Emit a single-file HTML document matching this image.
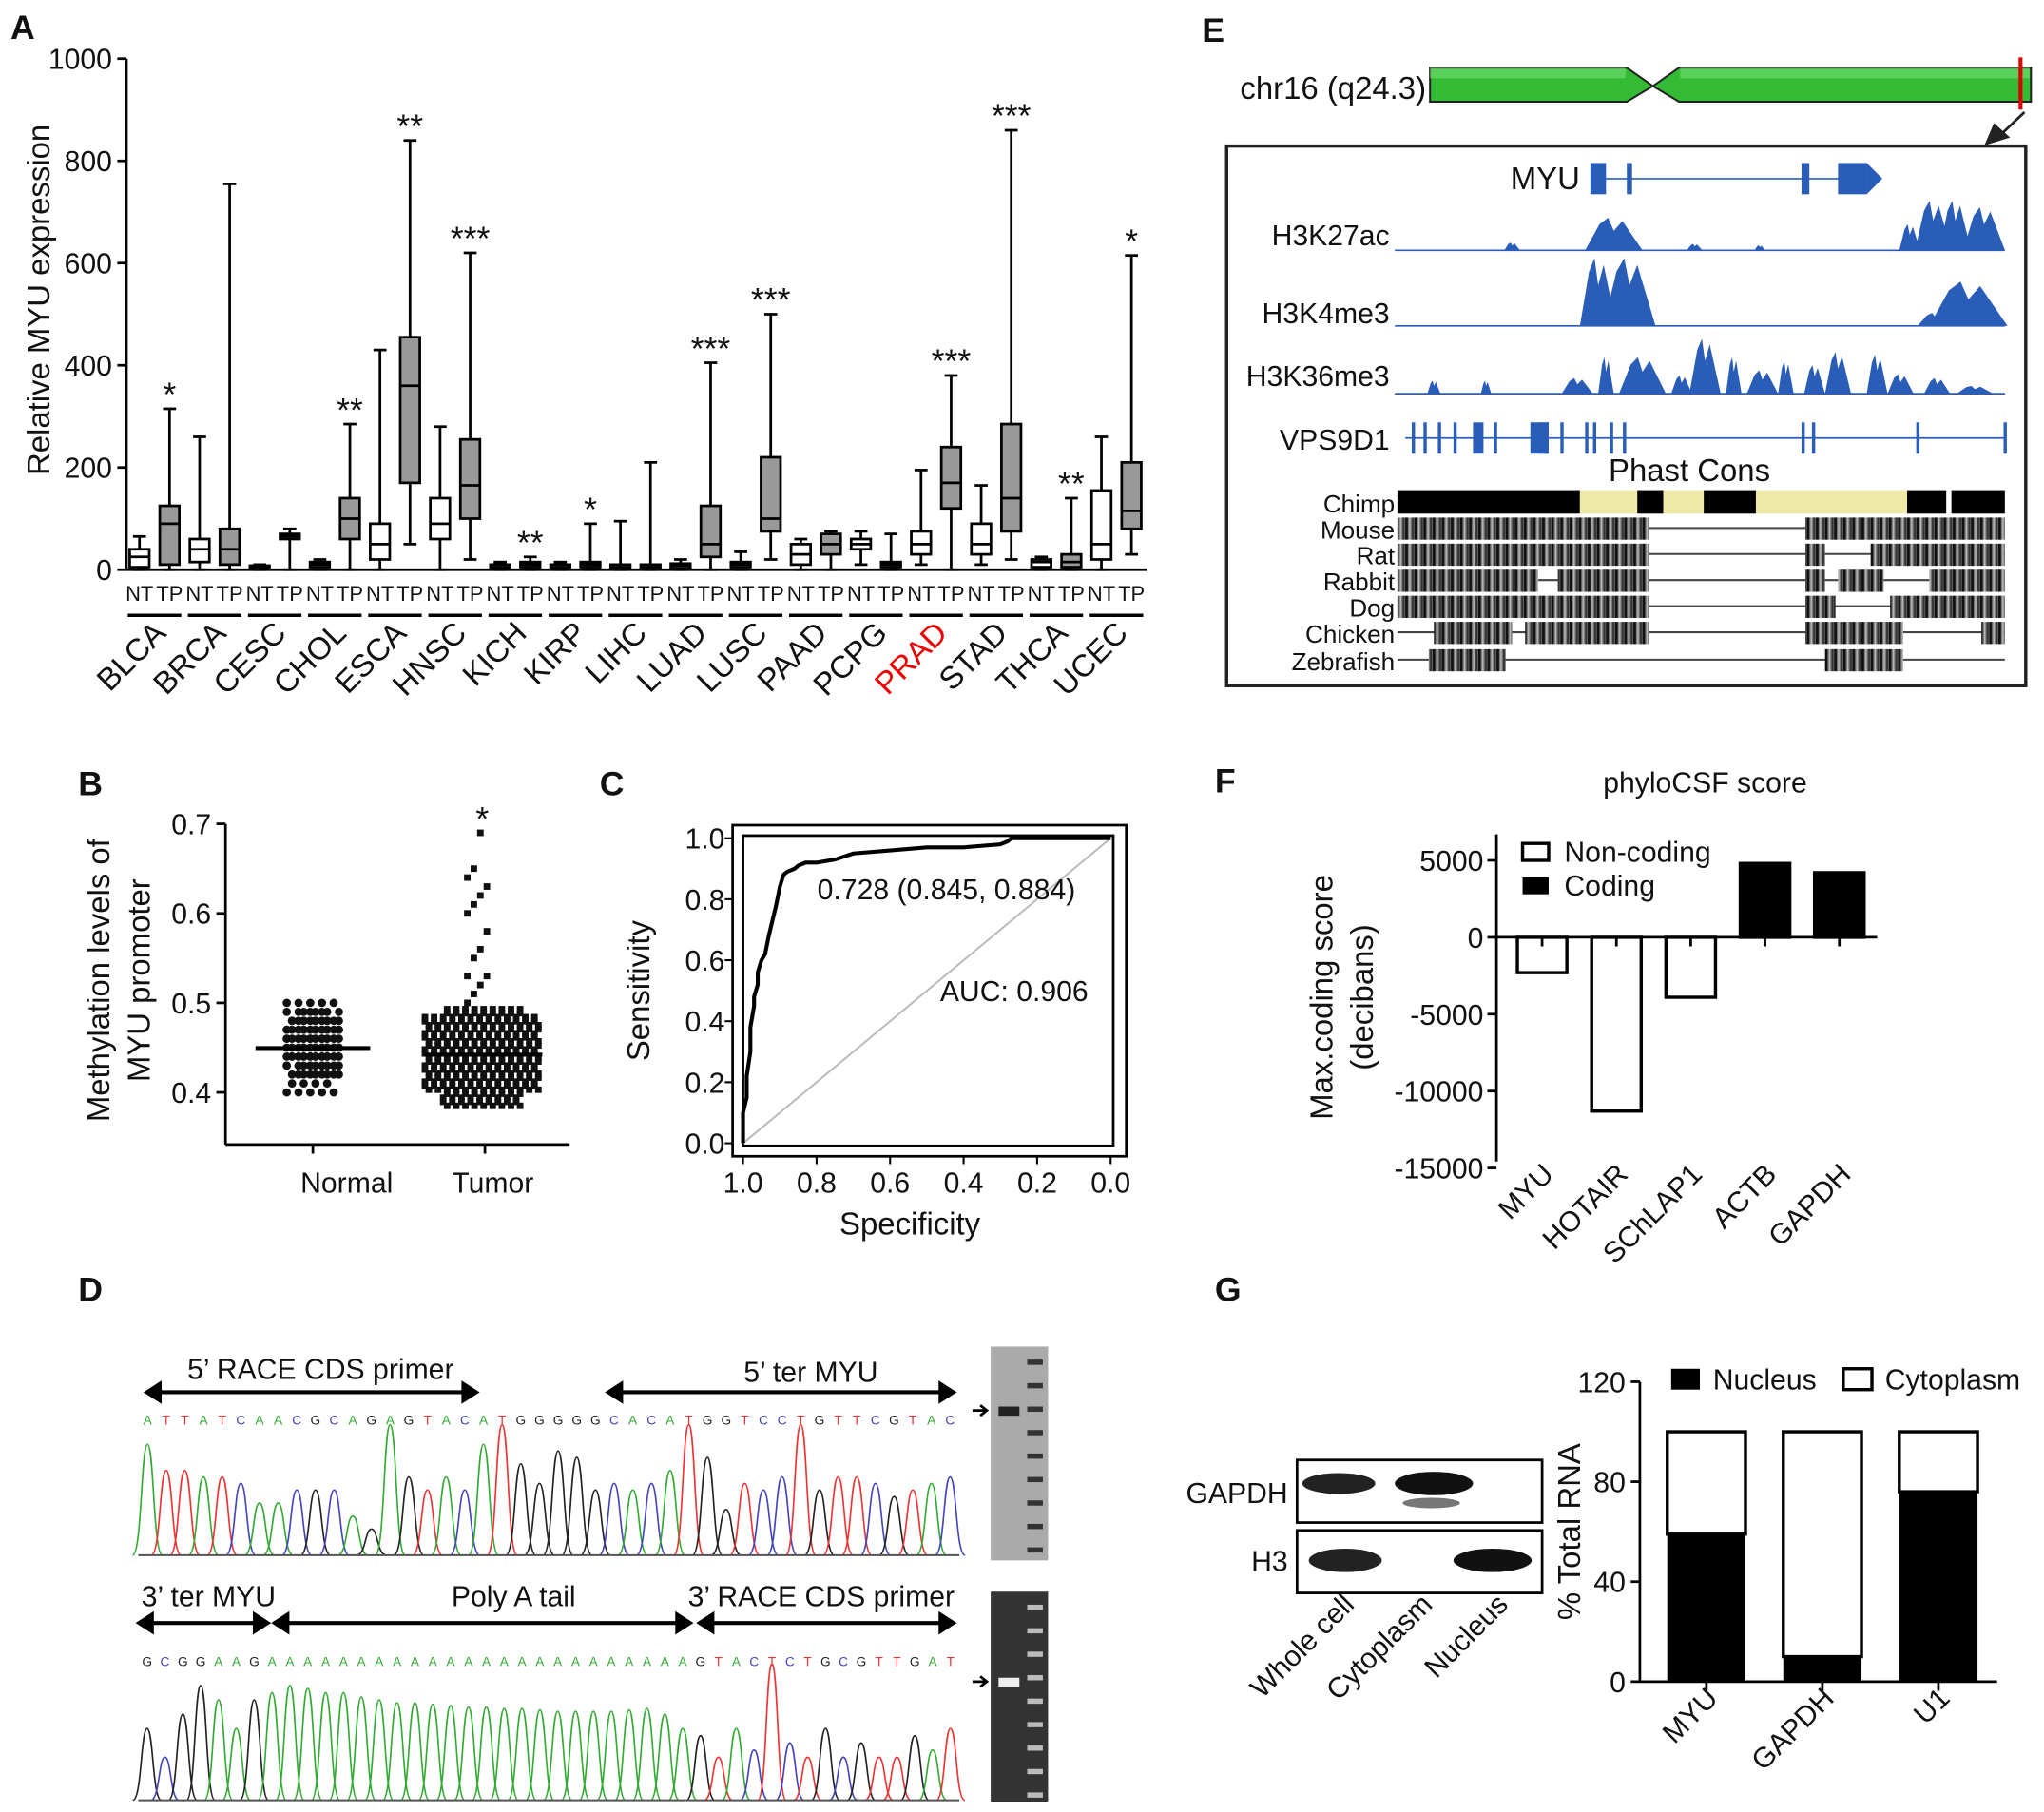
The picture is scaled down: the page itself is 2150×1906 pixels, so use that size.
<!DOCTYPE html>
<html><head><meta charset="utf-8"><style>
html,body{margin:0;padding:0;background:#fff}
svg{display:block}
text{font-family:"Liberation Sans",Arial,sans-serif;fill:#111}
</style></head><body>
<svg id="fig" width="2150" height="1906" viewBox="0 0 1568 1390" xmlns="http://www.w3.org/2000/svg">
<defs>
<pattern id="stripe" width="7" height="10" patternUnits="userSpaceOnUse">
<rect width="7" height="10" fill="#777"/><rect x="0" width="2" height="10" fill="#111"/><rect x="3" width="1" height="10" fill="#bbb"/><rect x="5" width="1.5" height="10" fill="#333"/>
</pattern>
</defs>
<g id="A"></g>
<g id="B"></g>
<g id="C"></g>
<g id="D"></g>
<g id="E"></g>
<g id="F"></g>
<g id="G"></g>
</svg>
<script>
// ---------- data ----------
const cancers = ["BLCA","BRCA","CESC","CHOL","ESCA","HNSC","KICH","KIRP","LIHC","LUAD","LUSC","PAAD","PCPG","PRAD","STAD","THCA","UCEC"];
const ntStats = [[0,5,25,40,65],[0,15,40,60,260],[0,2,5,8,10],[0,5,10,15,20],[0,20,50,90,430],[0,60,90,140,280],[0,3,5,10,15],[0,2,5,10,15],[0,2,5,10,95],[0,3,8,12,20],[0,5,10,15,35],[0,10,30,50,60],[10,40,50,60,75],[10,30,50,75,195],[10,30,50,90,165],[0,5,15,20,25],[0,20,50,155,260]];
const tpStats = [[0,10,90,125,315],[0,10,40,80,755],[0,60,65,70,80],[0,60,100,140,285],[50,170,360,455,840],[20,100,165,255,620],[0,5,10,15,25],[0,5,10,15,90],[0,2,5,10,210],[0,25,50,125,405],[20,75,100,220,500],[0,30,50,70,75],[0,5,10,15,70],[0,120,170,240,380],[20,75,140,285,860],[0,5,15,30,140],[30,80,115,210,615]];
const stars = ["*","","","**","**","***","**","*","","***","***","","","***","***","**","*"];
const aTicks = [0,200,400,600,800,1000];

const bTicks = [0.4,0.5,0.6,0.7];
const normalVals = [0.40,0.41,0.42,0.42,0.43,0.43,0.43,0.44,0.44,0.44,0.44,0.45,0.45,0.45,0.45,0.45,0.46,0.46,0.46,0.46,0.46,0.47,0.47,0.47,0.47,0.48,0.48,0.48,0.49,0.49,0.50];
const tumorOutliers = [0.50,0.51,0.52,0.53,0.53,0.55,0.56,0.58,0.60,0.61,0.62,0.63,0.64,0.65,0.69];

const rocSpec = [1.0,1.0,0.99,0.99,0.98,0.98,0.97,0.97,0.96,0.96,0.95,0.94,0.93,0.92,0.91,0.90,0.89,0.88,0.86,0.85,0.83,0.80,0.75,0.70,0.60,0.50,0.40,0.30,0.28,0.27,0.0];
const rocSens = [0.0,0.10,0.15,0.22,0.30,0.38,0.45,0.48,0.52,0.56,0.60,0.62,0.68,0.73,0.78,0.84,0.88,0.89,0.90,0.91,0.92,0.92,0.93,0.95,0.96,0.97,0.97,0.98,0.99,1.0,1.0];
const rocTicks = [0,0.2,0.4,0.6,0.8,1.0];

const fGenes = ["MYU","HOTAIR","SChLAP1","ACTB","GAPDH"];
const fScores = [-2300,-11300,-3900,4800,4200];
const fTicks = [5000,0,-5000,-10000,-15000];

const gGenes = ["MYU","GAPDH","U1"];
const gNucleus = [59,10,76];
const gTicks = [0,40,80,120];

const seqTop = "ATTATCAACGCAGAGTACATGGGGGCACATGGTCCTGTTCGTAC";
const peakTop = [0.85,0.65,0.65,0.6,0.6,0.55,0.4,0.4,0.5,0.5,0.5,0.3,0.2,1.0,0.6,0.5,0.6,0.5,0.85,1.0,0.7,0.55,0.8,0.75,0.5,0.55,0.5,0.55,0.65,1.0,0.75,0.35,0.55,0.5,0.6,1.0,0.5,0.6,0.6,0.55,0.45,0.5,0.55,0.6];
const seqBot = "GCGGAAGAAAAAAAAAAAAAAAAAAAAAAAAGTACTCTGCGTTGAT";
const peakBot = [0.5,0.3,0.6,0.8,0.7,0.5,0.7,0.75,0.8,0.78,0.75,0.75,0.72,0.7,0.68,0.68,0.67,0.66,0.65,0.65,0.64,0.64,0.63,0.62,0.62,0.62,0.62,0.63,0.64,0.6,0.5,0.45,0.3,0.5,0.35,0.95,0.4,0.3,0.5,0.3,0.4,0.3,0.3,0.45,0.35,0.5];

// ---------- helpers ----------
const NS="http://www.w3.org/2000/svg";
function mk(parent,tag,attrs,txt){const e=document.createElementNS(NS,tag);for(const k in attrs)e.setAttribute(k,attrs[k]);if(txt!==undefined)e.textContent=txt;parent.appendChild(e);return e;}
function line(p,x1,y1,x2,y2,sw,col){return mk(p,'line',{x1,y1,x2,y2,stroke:col||'#000','stroke-width':sw||1.5});}
function txt(p,x,y,s,size,anchor,extra){const a={x,y,'font-size':size,'text-anchor':anchor||'middle'};if(extra)Object.assign(a,extra);return mk(p,'text',a,s);}
function label(p,x,y,s,name){const t=txt(p,x,y,s,26,'start',{'font-weight':'bold'});}

// ---------- Panel A ----------
(function(){
const g=document.getElementById('A');
label(g,8,30,'A','panel-a-label');
const y=v=>437-v*0.392;
const bx=i=>107+i*23.06;
line(g,97,45,97,437,2);
line(g,97,437,880,437,2);
aTicks.forEach(t=>{line(g,90,y(t),97,y(t),2);txt(g,86,y(t)+8,String(t),22,'end');});
const yt=txt(g,0,0,'Relative MYU expression',24,'middle',{transform:'translate(38,230) rotate(-90)'});

function box(x,s,fill,name){
  const w=15;const bg=mk(g,'g',{});
  
  line(bg,x,y(s[0]),x,y(s[4]),2);
  line(bg,x-5,y(s[4]),x+5,y(s[4]),2);
  line(bg,x-5,y(s[0]),x+5,y(s[0]),2);
  mk(bg,'rect',{x:x-w/2,y:y(s[3]),width:w,height:Math.max(1,y(s[1])-y(s[3])),fill,stroke:'#000','stroke-width':2});
  line(bg,x-w/2,y(s[2]),x+w/2,y(s[2]),2);
}
cancers.forEach((c,i)=>{
  const x1=bx(2*i),x2=bx(2*i+1);
  box(x1,ntStats[i],'#fff','box-nt-'+c.toLowerCase());
  box(x2,tpStats[i],'#999','box-tp-'+c.toLowerCase());
  txt(g,x1,461,'NT',16);txt(g,x2,461,'TP',16);
  line(g,x1-9,472,x2+9,472,2.5);
  if(stars[i]){const st=txt(g,x2,y(Math.max(tpStats[i][4],ntStats[i][4]))-2,stars[i],26);}
  const cx=(x1+x2)/2+10;
  const t=txt(g,0,0,c,24,'end',{transform:`translate(${cx},487) rotate(-45)`});
  if(c==='PRAD')t.setAttribute('style','fill:#e00');
  
});
})();

// ---------- Panel B ----------
(function(){
const g=document.getElementById('B');
label(g,60,610,'B','panel-b-label');
const y=v=>838-(v-0.4)*686.7;
line(g,173,632,173,878,2);line(g,173,878,437,878,2);
bTicks.forEach(t=>{line(g,166,y(t),173,y(t),2);txt(g,162,y(t)+8,t.toFixed(1),22,'end');});
txt(g,0,0,'Methylation levels of',24,'middle',{transform:'translate(84,752) rotate(-90)'});
txt(g,0,0,'MYU promoter',24,'middle',{transform:'translate(115,752) rotate(-90)'});
txt(g,266,915,'Normal',22);txt(g,378,915,'Tumor',22);
line(g,240,878,240,885,2);line(g,372,878,372,885,2);
const ng=mk(g,'g',{});
normalVals.forEach((v,i)=>{
  for(let k=-2;k<=2;k++){if((i+k)%3===0&&Math.abs(k)==2)continue;mk(ng,'circle',{cx:238+k*9+(i%2)*4,cy:y(v),r:3.2,fill:'#111'});}
});
line(g,196,804,284,804,3);
const tg=mk(g,'g',{});
for(let v=0.385;v<=0.495;v+=0.0045){
  const wid=(v<0.40||v>0.485)?30:44;
  for(let dx=-wid;dx<=wid;dx+=7){mk(tg,'rect',{x:370+dx+((Math.round(v*1000))%2)*3-2.5,y:y(v)-2.5,width:5,height:5,fill:'#111'});}
}
tumorOutliers.forEach((v,i)=>{mk(tg,'rect',{x:366+((i*5)%4-2)*5,y:y(v)-2.5,width:5,height:5,fill:'#111'});});
line(g,326,809,416,809,3);
txt(g,370,637,'*',26);
})();

// ---------- Panel C ----------
(function(){
const g=document.getElementById('C');
label(g,460,610,'C','panel-c-label');
const x=v=>570+(1-v)*282, y=v=>877-v*234;
mk(g,'rect',{x:562,y:633,width:302,height:254,fill:'none',stroke:'#000','stroke-width':2});
mk(g,'rect',{x:570,y:641,width:284,height:238,fill:'none',stroke:'#000','stroke-width':2});
line(g,x(1),y(0),x(0),y(1),1.5,'#bbb');
rocTicks.forEach(t=>{txt(g,556,y(t)+8,t.toFixed(1),22,'end');txt(g,x(t),915,t.toFixed(1),22);line(g,x(t),887,x(t),893,1.5);line(g,556,y(t),562,y(t),1.5);});
txt(g,0,0,'Sensitivity',24,'middle',{transform:'translate(498,760) rotate(-90)'});
txt(g,698,947,'Specificity',24);
let d='';rocSpec.forEach((s,i)=>{d+=(i?'L':'M')+x(s)+','+y(rocSens[i]);});
const p=mk(g,'path',{d,fill:'none',stroke:'#000','stroke-width':3});
txt(g,726,690,'0.728 (0.845, 0.884)',22);
txt(g,778,768,'AUC: 0.906',22);
})();

// ---------- Panel D ----------
(function(){
const g=document.getElementById('D');
label(g,60,998,'D','panel-d-label');
const cols={A:'#3a3',C:'#44b',G:'#222',T:'#e33'};
function arrow(x1,x2,yy){line(g,x1+10,yy,x2-10,yy,3);mk(g,'path',{d:`M${x1},${yy}L${x1+14},${yy-9}L${x1+14},${yy+9}Z`,fill:'#000'});mk(g,'path',{d:`M${x2},${yy}L${x2-14},${yy-9}L${x2-14},${yy+9}Z`,fill:'#000'});}
function trace(seq,pk,x0,x1,yl,ybase,hmax,name){
  const n=seq.length,step=(x1-x0)/n;const tg=mk(g,'g',{});
  for(let i=0;i<n;i++){const cx=x0+step*(i+0.5);const b=seq[i];
    txt(tg,cx,yl,b,10,'middle',{style:'fill:'+cols[b]});
    const h=pk[i]*hmax;mk(tg,'path',{d:`M${cx-step*0.8},${ybase} C${cx-step*0.3},${ybase} ${cx-step*0.35},${ybase-h} ${cx},${ybase-h} C${cx+step*0.35},${ybase-h} ${cx+step*0.3},${ybase} ${cx+step*0.8},${ybase}`,fill:'none',stroke:cols[b],'stroke-width':1.2});}
  line(tg,x0,ybase,x1,ybase,1.5,'#555');
}
txt(g,246,1058,"5’ RACE CDS primer",22);arrow(110,368,1068);
txt(g,622,1060,"5’ ter MYU",22);arrow(464,734,1068);
trace(seqTop,peakTop,106,736,1093,1193,100,'chromatogram-top');
txt(g,160,1232,"3’ ter MYU",22);arrow(104,208,1245);
txt(g,394,1232,"Poly A tail",22);arrow(208,532,1245);
txt(g,630,1232,"3’ RACE CDS primer",22);arrow(534,734,1245);
trace(seqBot,peakBot,106,736,1278,1381,110,'chromatogram-bottom');
[[760,1033,1197,1082],[760,1221,1382,1290]].forEach(([gx,gy1,gy2,ay],k)=>{
  const gl=mk(g,'g',{});
  mk(gl,'rect',{x:gx,y:gy1,width:44,height:gy2-gy1,fill:k?'#333':'#aaa'});
  for(let yy=gy1+10;yy<gy2;yy+=18)mk(gl,'rect',{x:gx+28,y:yy,width:12,height:4,fill:k?'#bbb':'#333'});
  mk(gl,'rect',{x:gx+6,y:ay-3,width:16,height:7,fill:k?'#eee':'#222'});
  mk(g,'path',{d:`M${gx-14},${ay}L${gx-4},${ay}M${gx-8},${ay-4}L${gx-3},${ay}L${gx-8},${ay+4}`,stroke:'#000','stroke-width':2,fill:'none'});
});
})();

// ---------- Panel E ----------
(function(){
const g=document.getElementById('E');
label(g,922,32,'E','panel-e-label');
txt(g,1094,76,'chr16 (q24.3)',24,'end');
mk(g,'path',{d:'M1097,52 L1248,52 L1268,66 L1288,52 L1558,52 L1558,78 L1288,78 L1268,66 L1248,78 L1097,78 Z',fill:'#3b3',stroke:'#222','stroke-width':1.5});
mk(g,'rect',{x:1097,y:52,width:150,height:8,fill:'#7d7',opacity:0.6});
mk(g,'rect',{x:1289,y:52,width:268,height:8,fill:'#7d7',opacity:0.6});
line(g,1550,44,1550,84,3,'#d00');
mk(g,'path',{d:'M1553,86 L1532,106 M1524,110 L1540,105 L1530,96 Z',stroke:'#222','stroke-width':2,fill:'#222'});
mk(g,'rect',{x:941,y:112,width:613,height:414,fill:'none',stroke:'#222','stroke-width':2.5});
const blue='#2a5db8';
txt(g,1212,145,'MYU',24,'end');
line(g,1222,137,1420,137,1.2,blue);
[[1220,1232],[1248,1252],[1382,1388],[1410,1432]].forEach(([a,b])=>mk(g,'rect',{x:a,y:125,width:b-a,height:24,fill:blue}));
mk(g,'path',{d:'M1432,125 L1444,137 L1432,149 Z',fill:blue});
function track(name,yb,peaks,yl){txt(g,1066,yl,name,22,'end');line(g,1070,yb,1538,yb,1.2,blue);
  const tg=mk(g,'g',{});
  peaks.forEach(([x,w,h])=>mk(tg,'path',{d:`M${x-w},${yb} L${x-w*0.5},${yb-h*0.8} L${x-w*0.2},${yb-h} L${x},${yb-h*0.6} L${x+w*0.3},${yb-h*0.9} L${x+w},${yb} Z`,fill:blue}));}
track('H3K27ac',192,[[1238,22,25],[1300,6,5],[1350,4,4],[1483,14,38],[1500,12,38],[1522,16,33],[1465,8,20],[1160,6,6]],188);
track('H3K4me3',250,[[1226,14,52],[1250,20,52],[1510,30,34],[1485,14,10]],248);
track('H3K36me3',302,[[1100,5,10],[1140,4,10],[1210,12,12],[1232,6,28],[1260,18,28],[1290,8,14],[1308,12,42],[1330,6,28],[1352,12,18],[1370,6,25],[1392,8,22],[1410,10,32],[1440,8,30],[1458,10,15],[1486,10,12],[1515,14,6]],296);
txt(g,1066,345,'VPS9D1',22,'end');line(g,1078,336,1538,336,1.2,blue);
[1083,1092,1103,1115,1130,1146,1180,1197,1216,1222,1235,1245,1382,1390,1470,1537].forEach((xx,i)=>mk(g,'rect',{x:xx,y:324,width:[1130,1180].includes(xx)?8:(xx===1180?12:2.5),height:24,fill:blue}));
mk(g,'rect',{x:1174,y:324,width:14,height:24,fill:blue});
txt(g,1296,369,'Phast Cons',24);
const rows=['Chimp','Mouse','Rat','Rabbit','Dog','Chicken','Zebrafish'];
const rowY=[376,396,416,436,456,476,497];
rows.forEach((r,i)=>txt(g,1070,rowY[i]+17,r,19,'end'));
[[1072,1212,'#000'],[1212,1256,'#eee9a6'],[1256,1276,'#000'],[1276,1307,'#eee9a6'],[1307,1347,'#000'],[1347,1463,'#eee9a6'],[1463,1493,'#000'],[1497,1538,'#000']].forEach(([a,b,c])=>mk(g,'rect',{x:a,y:376,width:b-a,height:18,fill:c}));
const segs={Mouse:[[1072,1265],[1385,1538]],Rat:[[1072,1265],[1385,1400],[1435,1538]],Rabbit:[[1072,1180],[1195,1265],[1385,1400],[1410,1445],[1480,1538]],Dog:[[1072,1265],[1385,1408],[1450,1538]],Chicken:[[1100,1160],[1170,1265],[1385,1460],[1520,1538]],Zebrafish:[[1096,1155],[1400,1460]]};
Object.keys(segs).forEach(r=>{const yy=rowY[rows.indexOf(r)];line(g,1072,yy+9,1538,yy+9,1.5,'#444');
  segs[r].forEach(([a,b])=>mk(g,'rect',{x:a,y:yy+1,width:b-a,height:17,fill:'url(#stripe)'}));});
})();

// ---------- Panel F ----------
(function(){
const g=document.getElementById('F');
label(g,932,608,'F','panel-f-label');
txt(g,1308,608,'phyloCSF score',22);
const y=v=>719-v*0.0118;
line(g,1148,640,1148,891,2);line(g,1148,719,1440,719,2);
fTicks.forEach(t=>{line(g,1141,y(t),1148,y(t),2);txt(g,1138,y(t)+8,String(t),22,'end');});
txt(g,0,0,'Max.coding score',24,'middle',{transform:'translate(1022,765) rotate(-90)'});
txt(g,0,0,'(decibans)',24,'middle',{transform:'translate(1053,765) rotate(-90)'});
fGenes.forEach((n,i)=>{const cx=1183+i*57,v=fScores[i];
  const r=mk(g,'rect',{x:cx-19,y:Math.min(y(v),y(0)),width:38,height:Math.abs(y(v)-y(0)),fill:v>0?'#000':'#fff',stroke:'#000','stroke-width':2.5});
  
  line(g,cx,719,cx,726,2);
  txt(g,0,0,n,22,'end',{transform:`translate(${cx+10},${902}) rotate(-45)`});});
mk(g,'rect',{x:1168,y:647,width:20,height:13,fill:'#fff',stroke:'#000','stroke-width':2.5});txt(g,1200,661,'Non-coding',22,'start');
mk(g,'rect',{x:1168,y:673,width:20,height:13,fill:'#000'});txt(g,1200,687,'Coding',22,'start');
})();

// ---------- Panel G ----------
(function(){
const g=document.getElementById('G');
label(g,932,998,'G','panel-g-label');
const w=mk(g,'g',{});
mk(w,'rect',{x:995,y:1120,width:188,height:48,fill:'#fff',stroke:'#000','stroke-width':2});
mk(w,'rect',{x:995,y:1174,width:188,height:48,fill:'#fff',stroke:'#000','stroke-width':2});
mk(w,'ellipse',{cx:1027,cy:1138,rx:28,ry:8,fill:'#222'});mk(w,'ellipse',{cx:1100,cy:1138,rx:30,ry:9,fill:'#111'});mk(w,'ellipse',{cx:1098,cy:1153,rx:22,ry:4,fill:'#777'});
mk(w,'ellipse',{cx:1032,cy:1197,rx:28,ry:9,fill:'#222'});mk(w,'ellipse',{cx:1145,cy:1197,rx:30,ry:9,fill:'#111'});
txt(g,988,1153,'GAPDH',22,'end');txt(g,988,1205,'H3',22,'end');
[['Whole cell',1040],['Cytoplasm',1100],['Nucleus',1158]].forEach(([s,x])=>txt(g,0,0,s,22,'end',{transform:`translate(${x},${1232}) rotate(-45)`}));
const y=v=>1290-v*1.9167;
line(g,1258,1060,1258,1290,2);line(g,1258,1290,1532,1290,2);
gTicks.forEach(t=>{line(g,1251,y(t),1258,y(t),2);txt(g,1247,y(t)+8,String(t),22,'end');});
txt(g,0,0,'% Total RNA',24,'middle',{transform:'translate(1212,1175) rotate(-90)'});
gGenes.forEach((n,i)=>{const cx=1309+i*89;
  const c=mk(g,'rect',{x:cx-30,y:y(100),width:60,height:y(gNucleus[i])-y(100),fill:'#fff',stroke:'#000','stroke-width':2.5});
  
  const b=mk(g,'rect',{x:cx-30,y:y(gNucleus[i]),width:60,height:y(0)-y(gNucleus[i]),fill:'#000'});
  
  line(g,cx,1290,cx,1297,2);
  txt(g,0,0,n,22,'end',{transform:`translate(${cx+10},${1304}) rotate(-45)`});});
mk(g,'rect',{x:1282,y:1050,width:22,height:16,fill:'#000'});txt(g,1314,1066,'Nucleus',22,'start');
mk(g,'rect',{x:1414,y:1050,width:22,height:16,fill:'#fff',stroke:'#000','stroke-width':2.5});txt(g,1446,1066,'Cytoplasm',22,'start');
})();
</script>
</body></html>
